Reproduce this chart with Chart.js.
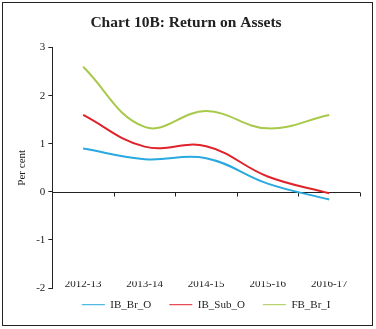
<!DOCTYPE html>
<html>
<head>
<meta charset="utf-8">
<script src="https://cdn.jsdelivr.net/npm/chart.js@4/dist/chart.umd.min.js"></script>
<style>
  html, body { margin: 0; padding: 0; background: #fff; }
  #wrap { position: relative; width: 376px; height: 329px; }
  #frame { position: absolute; left: 2px; top: 2px; width: 369px; height: 322px; border: 1.5px solid #222; pointer-events: none; }
</style>
</head>
<body>
<div id="wrap">
  <canvas id="roaChart" width="376" height="329"></canvas>
  <div id="frame"></div>
</div>
<script>
// --- dados do gráfico ---
const years = ['2012-13', '2013-14', '2014-15', '2015-16', '2016-17'];
const ibBrO = [0.9, 0.68, 0.7, 0.17, -0.16];
const ibSubO = [1.6, 0.94, 0.95, 0.32, -0.03];
const fbBrI = [2.6, 1.35, 1.68, 1.32, 1.6];

const serif = 'Liberation Serif';

// linha do zero com marcas entre as categorias
const zeroLine = {
    id: 'zeroLine',
    beforeDatasetsDraw(chart) {
        const { ctx, chartArea, scales } = chart;
        const y0 = Math.round(scales.y.getPixelForValue(0)) + 0.5;
        const half = (scales.x.getPixelForValue(1) - scales.x.getPixelForValue(0)) / 2;
        ctx.save();
        ctx.strokeStyle = '#222';
        ctx.lineWidth = 1;
        ctx.beginPath();
        ctx.moveTo(chartArea.left, y0);
        ctx.lineTo(chartArea.right, y0);
        years.forEach((_, i) => {
            const x = Math.round(scales.x.getPixelForValue(i) + half) + 0.5;
            ctx.moveTo(x, y0);
            ctx.lineTo(x, y0 + 4);
        });
        ctx.stroke();
        ctx.restore();
    }
};

new Chart(document.getElementById('roaChart'), {
    type: 'line',
    data: {
        labels: years,
        datasets: [
            { label: 'IB_Br_O', data: ibBrO, borderColor: '#29a9e0', backgroundColor: '#29a9e0' },
            { label: 'IB_Sub_O', data: ibSubO, borderColor: '#e0232a', backgroundColor: '#e0232a' },
            { label: 'FB_Br_I', data: fbBrI, borderColor: '#a8c94a', backgroundColor: '#a8c94a' }
        ]
    },
    options: {
        responsive: false,
        animation: false,
        layout: { padding: { left: 12, right: 16, top: 6, bottom: 2 } },
        elements: {
            line: { tension: 0.4, borderWidth: 2 },
            point: { radius: 0 }
        },
        scales: {
            x: {
                offset: true,
                grid: { display: false, drawTicks: false },
                border: { display: false },
                ticks: { color: '#222', padding: -10, font: { family: serif, size: 11 } }
            },
            y: {
                min: -2,
                max: 3,
                ticks: { stepSize: 1, color: '#222', padding: 3, font: { family: serif, size: 11 } },
                grid: { drawOnChartArea: false, drawTicks: true, tickLength: 4, color: '#222' },
                border: { display: true, color: '#222', width: 1 },
                title: { display: true, text: 'Per cent', color: '#222', padding: 4, font: { family: serif, size: 11 } }
            }
        },
        plugins: {
            title: {
                display: true,
                text: 'Chart 10B: Return on Assets',
                color: '#222',
                padding: { top: 8, bottom: 15 },
                font: { family: serif, size: 15.5, weight: 'bold' }
            },
            legend: {
                position: 'bottom',
                fullSize: false,
                labels: {
                    usePointStyle: true,
                    pointStyle: 'line',
                    pointStyleWidth: 23,
                    boxHeight: 10,
                    padding: 18,
                    color: '#222',
                    font: { family: serif, size: 11 }
                }
            },
            tooltip: { enabled: false }
        }
    },
    plugins: [zeroLine]
});
</script>
</body>
</html>
